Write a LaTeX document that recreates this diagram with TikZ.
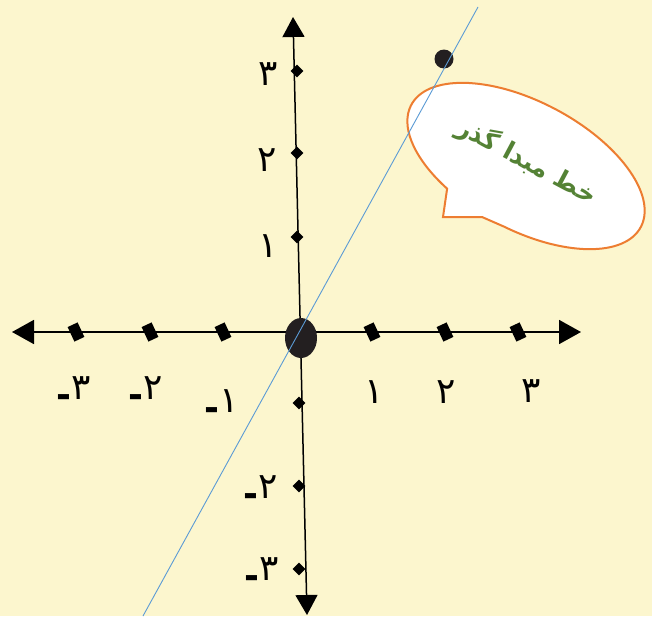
\documentclass[tikz,border=0pt]{standalone}
\usepackage{fontspec}
\usepackage{tikz}
\usetikzlibrary{arrows.meta,shapes.geometric}
\newfontfamily\arabicfont[Script=Arabic]{DejaVu Sans}
\newfontfamily\digitfont{DejaVu Sans}
\TeXXeTstate=1
\definecolor{bgyellow}{RGB}{252,246,206}
\definecolor{myblue}{RGB}{91,155,213}
\definecolor{myorange}{RGB}{237,125,49}
\definecolor{mygreen}{RGB}{84,130,53}
\definecolor{mydark}{RGB}{35,31,32}

\begin{document}
\begin{tikzpicture}[x=1pt,y=-1pt,
  axisline/.style={line width=1.8pt, black},
  xtick/.style={fill=black, inner sep=0pt, minimum width=11pt, minimum height=16pt, rotate=25},
  ytick/.style={diamond, fill=black, inner sep=0pt, minimum size=13pt},
  numlbl/.style={font=\digitfont\fontsize{36}{36}\selectfont, inner sep=0pt},
  bubble/.style={draw=myorange, line width=2pt, fill=white}]
  % Background
  \fill[bgyellow] (0,0) rectangle (652,616);
  \useasboundingbox (0,0) rectangle (652,616);

  % Axes
  \coordinate (xL) at (12,332);
  \coordinate (xR) at (581,332);
  \coordinate (yT) at (293,17);
  \coordinate (yB) at (307,615);
  \draw[axisline, {Triangle[length=22pt,width=24pt]}-{Triangle[length=22pt,width=24pt]}] (xL) -- (xR);
  \draw[axisline, line width=1.5pt, {Triangle[length=20pt,width=22pt]}-{Triangle[length=20pt,width=22pt]}] (yB) -- (yT);

  % Ticks on x axis
  \node[xtick] (xm3) at (76,332) {};
  \node[xtick] (xm2) at (150,332) {};
  \node[xtick] (xm1) at (223,332) {};
  \node[xtick] (xp1) at (372,332) {};
  \node[xtick] (xp2) at (445,332) {};
  \node[xtick] (xp3) at (518,332) {};

  % Ticks on y axis
  \node[ytick] (yp3) at (297,71) {};
  \node[ytick] (yp2) at (297,153) {};
  \node[ytick] (yp1) at (297,237) {};
  \node[ytick] (ym1) at (299,403) {};
  \node[ytick] (ym2) at (299,486) {};
  \node[ytick] (ym3) at (299,569) {};

  % Numbers
  \node[numlbl] (lxp1) at (374,392) {۱};
  \node[numlbl] (lxp2) at (446,392) {۲};
  \node[numlbl] (lxp3) at (531,391) {۳};
  \node[numlbl] (lxm3) at (74,392) {\raisebox{-0.2em}{\bfseries -}۳};
  \node[numlbl] (lxm2) at (146,392) {\raisebox{-0.2em}{\bfseries -}۲};
  \node[numlbl] (lxm1) at (222,405) {\raisebox{-0.2em}{\bfseries -}۱};
  \node[numlbl] (lyp3) at (268,74) {۳};
  \node[numlbl] (lyp2) at (267,160) {۲};
  \node[numlbl] (lyp1) at (268,246) {۱};
  \node[numlbl] (lym2) at (261,491) {\raisebox{-0.2em}{\bfseries -}۲};
  \node[numlbl] (lym3) at (262,573) {\raisebox{-0.2em}{\bfseries -}۳};

  % Origin and point
  \node[ellipse, fill=mydark, inner sep=0pt, minimum width=32pt, minimum height=40pt] (O) at (301,338) {};
  \node[circle, fill=mydark, inner sep=0pt, minimum size=19pt] (P) at (444,59) {};

  % Callout
  \coordinate (tailA) at (443,217);
  \coordinate (tailB) at (482,217);
  \begin{scope}[shift={(526,166)}, rotate=-28]
    \draw[bubble] (117:130 and 64) -- (tailA) -- (tailB) -- (86:130 and 64)
      arc[start angle=86, end angle=-243, x radius=130, y radius=64] -- cycle;
  \end{scope}
  \node[rotate=-28, text=mygreen, font=\arabicfont\bfseries\fontsize{25}{25}\selectfont] (title) at (527,161) {\beginR خط مبدا گذر\endR};

  % Line through origin
  \coordinate (lnS) at (143,616);
  \coordinate (lnE) at (478,7);
  \draw[myblue, line width=0.9pt] (lnS) -- (lnE);
\end{tikzpicture}
\end{document}
